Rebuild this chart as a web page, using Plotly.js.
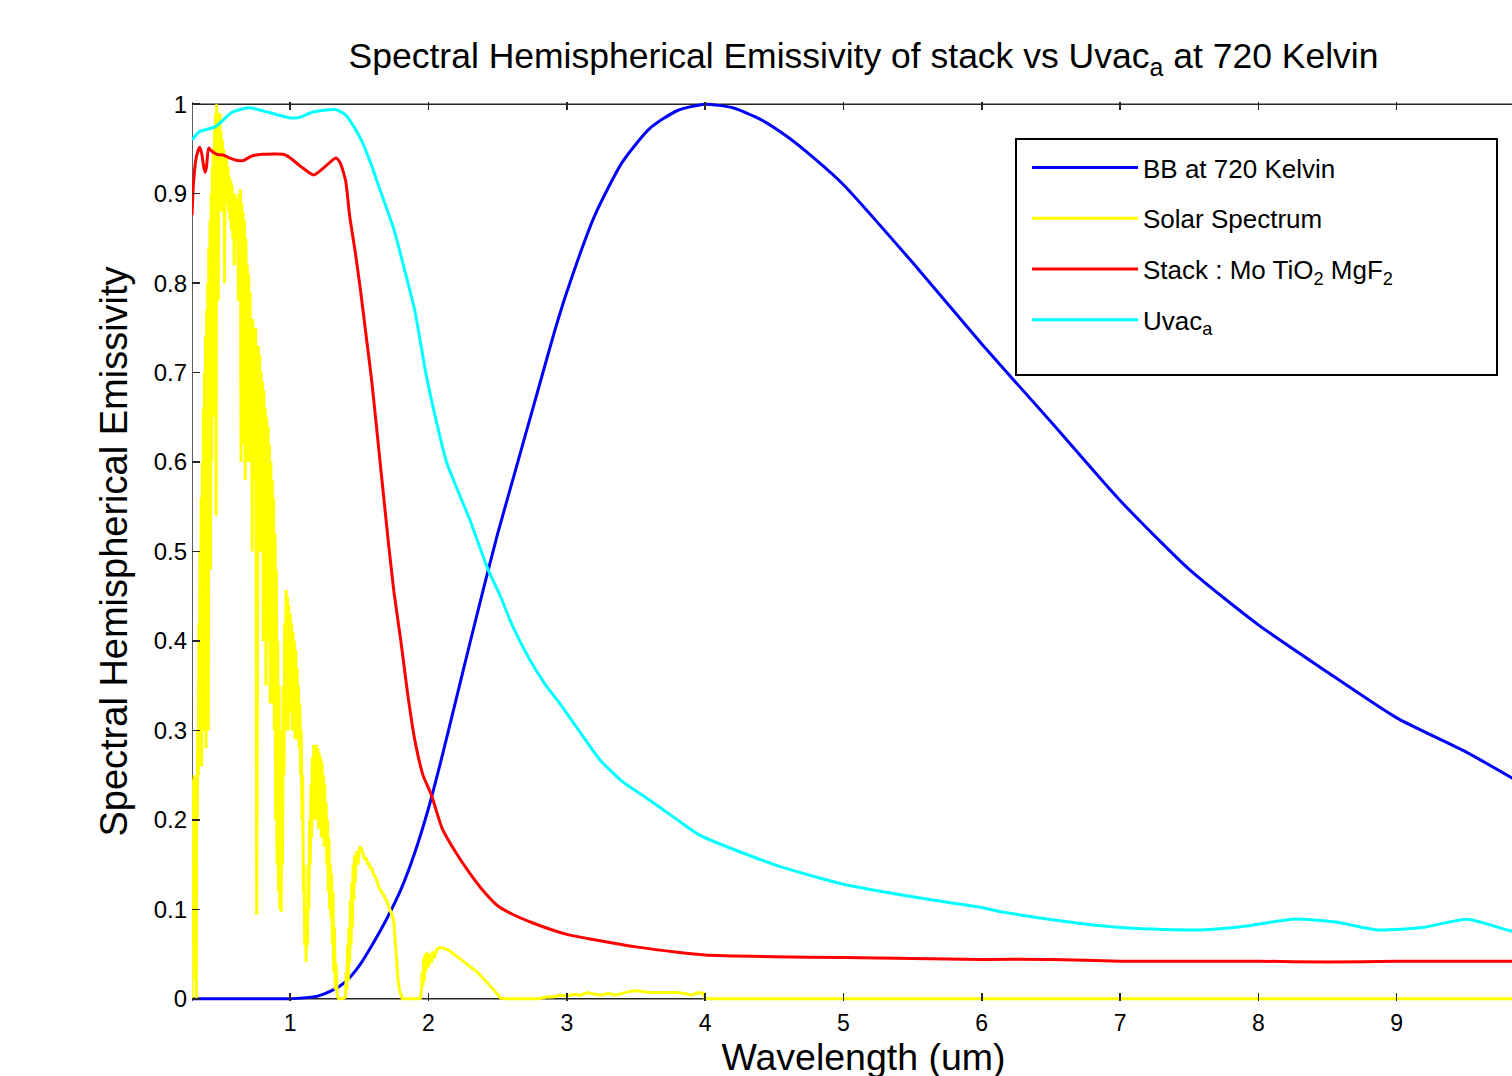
<!DOCTYPE html>
<html>
<head>
<meta charset="utf-8">
<script src="https://cdn.plot.ly/plotly-3.0.1.min.js"></script>
<style>
  html, body { margin: 0; padding: 0; overflow: hidden; background: #fff; }
  #chart { width: 1560px; height: 1100px; }
</style>
</head>
<body>
<div id="chart"></div>
<script>
// ---- Data ----
const seriesNames = ["BB at 720 Kelvin", "Solar Spectrum", "Stack : Mo TiO<sub>2</sub> MgF<sub>2</sub>", "Uvac<sub>a</sub>"];

const bbX = [0.29,0.5,0.8,1.0,1.1,1.2,1.3,1.4,1.5,1.6,1.7,1.8,1.9,2.0,2.1,2.2,2.3,2.4,2.5,2.6,2.7,2.8,2.9,3.0,3.2,3.4,3.6,3.8,4.0,4.2,4.4,4.6,4.8,5.0,5.5,6.0,6.5,7.0,7.5,8.0,8.5,9.0,9.5,10.0];
const bbY = [0,0,0,0,0.001,0.003,0.009,0.019,0.037,0.062,0.09,0.122,0.163,0.213,0.272,0.335,0.398,0.46,0.52,0.575,0.63,0.685,0.74,0.79,0.875,0.935,0.973,0.993,1.0,0.996,0.983,0.963,0.938,0.91,0.823,0.732,0.645,0.557,0.48,0.418,0.365,0.314,0.276,0.232];

const solarX = [0.290,0.292,0.294,0.296,0.298,0.300,0.303,0.306,0.309,0.312,0.315,0.318,0.321,0.324,0.328,0.332,0.336,0.340,0.344,0.348,0.352,0.356,0.360,0.364,0.368,0.372,0.376,0.380,0.384,0.388,0.392,0.396,0.400,0.404,0.408,0.412,0.416,0.420,0.424,0.428,0.432,0.436,0.440,0.444,0.448,0.452,0.456,0.460,0.464,0.468,0.472,0.476,0.480,0.484,0.488,0.492,0.496,0.500,0.505,0.510,0.515,0.520,0.525,0.530,0.535,0.540,0.545,0.550,0.555,0.560,0.565,0.570,0.575,0.580,0.585,0.590,0.595,0.600,0.605,0.610,0.615,0.620,0.625,0.630,0.635,0.640,0.645,0.650,0.655,0.660,0.665,0.670,0.675,0.680,0.685,0.690,0.695,0.700,0.705,0.710,0.715,0.720,0.725,0.730,0.735,0.740,0.745,0.750,0.755,0.758,0.762,0.766,0.770,0.775,0.780,0.785,0.790,0.795,0.800,0.805,0.810,0.815,0.820,0.825,0.830,0.835,0.840,0.845,0.850,0.855,0.860,0.865,0.870,0.875,0.880,0.885,0.890,0.895,0.900,0.905,0.910,0.915,0.920,0.925,0.930,0.935,0.940,0.945,0.950,0.955,0.960,0.965,0.970,0.975,0.980,0.985,0.990,0.995,1.000,1.005,1.010,1.015,1.020,1.025,1.030,1.035,1.040,1.045,1.050,1.055,1.060,1.065,1.070,1.075,1.080,1.085,1.090,1.095,1.100,1.105,1.110,1.115,1.120,1.125,1.130,1.135,1.140,1.145,1.150,1.155,1.160,1.165,1.170,1.175,1.180,1.185,1.190,1.195,1.200,1.205,1.210,1.215,1.220,1.225,1.230,1.235,1.240,1.245,1.250,1.255,1.260,1.265,1.270,1.275,1.280,1.285,1.290,1.295,1.300,1.305,1.310,1.315,1.320,1.325,1.330,1.340,1.350,1.380,1.400,1.405,1.410,1.415,1.420,1.425,1.430,1.435,1.440,1.445,1.450,1.455,1.460,1.465,1.470,1.480,1.490,1.500,1.510,1.520,1.530,1.540,1.550,1.560,1.570,1.580,1.590,1.600,1.620,1.640,1.660,1.680,1.700,1.720,1.740,1.750,1.760,1.770,1.780,1.790,1.800,1.810,1.940,1.950,1.955,1.960,1.965,1.970,1.975,1.980,1.990,2.000,2.010,2.020,2.030,2.040,2.060,2.080,2.100,2.150,2.200,2.250,2.300,2.350,2.400,2.450,2.500,2.520,2.550,2.800,2.850,2.900,2.950,3.000,3.050,3.100,3.150,3.200,3.250,3.300,3.350,3.400,3.450,3.500,3.600,3.700,3.800,3.850,3.900,3.950,3.990,4.000,10.000];
const solarY = [0.000,0.110,0.020,0.200,0.060,0.245,0.150,0.250,0.100,0.245,0.020,0.240,0.000,0.250,0.200,0.300,0.250,0.420,0.260,0.500,0.300,0.560,0.260,0.600,0.350,0.660,0.300,0.700,0.400,0.740,0.280,0.770,0.450,0.800,0.300,0.840,0.500,0.870,0.480,0.900,0.600,0.930,0.700,0.950,0.650,0.970,0.750,0.990,0.540,1.000,0.880,0.990,0.780,0.960,0.900,0.990,0.880,0.970,0.920,0.960,0.880,0.950,0.800,0.940,0.900,0.940,0.890,0.930,0.880,0.920,0.870,0.915,0.860,0.910,0.850,0.900,0.820,0.900,0.860,0.895,0.850,0.890,0.780,0.900,0.820,0.905,0.600,0.890,0.700,0.880,0.620,0.870,0.580,0.850,0.700,0.820,0.600,0.810,0.650,0.790,0.600,0.760,0.500,0.760,0.580,0.750,0.620,0.750,0.300,0.094,0.300,0.700,0.730,0.600,0.720,0.500,0.700,0.600,0.690,0.400,0.680,0.550,0.660,0.350,0.650,0.480,0.640,0.400,0.620,0.330,0.600,0.450,0.580,0.330,0.560,0.300,0.520,0.200,0.480,0.150,0.400,0.120,0.350,0.100,0.300,0.097,0.280,0.150,0.350,0.250,0.420,0.300,0.457,0.350,0.450,0.300,0.440,0.320,0.430,0.350,0.420,0.300,0.410,0.330,0.400,0.290,0.390,0.300,0.370,0.290,0.350,0.280,0.330,0.250,0.300,0.200,0.250,0.120,0.150,0.060,0.100,0.041,0.090,0.060,0.150,0.100,0.200,0.150,0.240,0.180,0.270,0.200,0.284,0.220,0.280,0.200,0.284,0.230,0.280,0.190,0.275,0.220,0.270,0.180,0.265,0.210,0.250,0.170,0.240,0.180,0.220,0.150,0.200,0.120,0.180,0.100,0.150,0.090,0.140,0.060,0.120,0.030,0.080,0.010,0.040,0.005,0.000,0.000,0.002,0.030,0.010,0.060,0.020,0.080,0.040,0.110,0.060,0.130,0.080,0.150,0.110,0.160,0.130,0.165,0.150,0.168,0.170,0.165,0.160,0.155,0.158,0.150,0.152,0.145,0.147,0.140,0.135,0.125,0.120,0.115,0.108,0.100,0.092,0.085,0.060,0.040,0.020,0.010,0.004,0.000,0.000,0.010,0.030,0.015,0.045,0.020,0.050,0.030,0.052,0.035,0.050,0.040,0.053,0.045,0.055,0.057,0.057,0.054,0.048,0.042,0.036,0.030,0.022,0.014,0.005,0.001,0.000,0.000,0.002,0.002,0.004,0.003,0.005,0.004,0.007,0.005,0.004,0.006,0.004,0.006,0.008,0.009,0.007,0.007,0.007,0.006,0.004,0.007,0.006,0.000,0.000];

const stackX = [0.29,0.30,0.32,0.345,0.36,0.375,0.385,0.395,0.41,0.43,0.47,0.52,0.56,0.62,0.66,0.72,0.8,0.95,1.0,1.08,1.17,1.25,1.33,1.36,1.40,1.43,1.47,1.51,1.55,1.59,1.63,1.67,1.71,1.75,1.80,1.85,1.90,1.96,2.02,2.1,2.2,2.3,2.4,2.5,2.6,2.75,3.0,3.2,3.5,3.8,4.0,4.5,5.0,5.5,6.0,6.5,7.0,7.5,8.0,8.5,9.0,9.5,10.0];
const stackY = [0.876,0.91,0.94,0.952,0.945,0.93,0.924,0.93,0.951,0.948,0.944,0.943,0.94,0.937,0.937,0.942,0.944,0.944,0.94,0.93,0.921,0.93,0.94,0.935,0.915,0.875,0.835,0.79,0.74,0.69,0.63,0.57,0.51,0.455,0.40,0.34,0.29,0.25,0.228,0.19,0.163,0.14,0.12,0.104,0.095,0.085,0.072,0.066,0.058,0.052,0.049,0.047,0.046,0.045,0.044,0.044,0.042,0.042,0.042,0.041,0.042,0.042,0.042];

const uvacX = [0.29,0.34,0.46,0.58,0.70,0.84,0.99,1.06,1.16,1.33,1.40,1.46,1.52,1.58,1.65,1.75,1.84,1.90,1.98,2.05,2.13,2.22,2.30,2.43,2.52,2.59,2.66,2.74,2.85,2.95,3.1,3.24,3.4,3.6,3.8,3.96,4.5,5.0,5.5,6.0,6.13,6.62,7.05,7.58,7.9,8.25,8.55,8.86,9.2,9.51,9.82,10.0];
const uvacY = [0.96,0.969,0.975,0.991,0.996,0.991,0.985,0.985,0.991,0.994,0.988,0.975,0.958,0.935,0.904,0.86,0.807,0.77,0.70,0.65,0.60,0.565,0.535,0.48,0.45,0.423,0.40,0.377,0.35,0.33,0.297,0.267,0.243,0.222,0.20,0.183,0.15,0.128,0.114,0.102,0.0975,0.086,0.079,0.077,0.081,0.089,0.086,0.077,0.080,0.089,0.076,0.072];

const xTickVals = [1,2,3,4,5,6,7,8,9];
const yTickVals = [0,0.1,0.2,0.3,0.4,0.5,0.6,0.7,0.8,0.9,1];
const yTickText = ["0","0.1","0.2","0.3","0.4","0.5","0.6","0.7","0.8","0.9","1"];

// ---- Figure ----
const FONT = "Liberation Sans, Arial, sans-serif";
const colors = ["#0000ff", "#ffff00", "#ff0000", "#00ffff"];
const shapes = ["spline", "linear", "spline", "spline"];
const xs = [bbX, solarX, stackX, uvacX];
const ys = [bbY, solarY, stackY, uvacY];

const traces = seriesNames.map((name, i) => ({
  type: "scatter", mode: "lines", name: name, legendgroup: "g" + i,
  x: xs[i], y: ys[i],
  line: { color: colors[i], width: 3, shape: shapes[i], smoothing: 0.6 }
}));

const frameColor = "#262626";
const legX0 = 1016, legX1 = 1497, legY0 = 139, legY1 = 375;
const layout = {
  width: 1560, height: 1100,
  margin: { l: 192, r: 25, t: 102, b: 99 },
  paper_bgcolor: "#fff", plot_bgcolor: "#fff",
  showlegend: true,
  title: {
    text: "Spectral Hemispherical Emissivity of stack vs Uvac<sub>a</sub> at 720 Kelvin",
    font: { family: FONT, size: 35.5, color: "#000" },
    x: 0.5, xref: "paper", xanchor: "center",
    y: 1 - 56 / 1100, yref: "container", yanchor: "middle"
  },
  xaxis: {
    range: [0.29, 10], tickvals: xTickVals, ticktext: xTickVals.map(String),
    ticks: "inside", ticklen: 8, tickwidth: 1.5, tickcolor: frameColor,
    mirror: "ticks", showline: false, showgrid: false, zeroline: false,
    tickfont: { family: FONT, size: 23, color: "#000" },
    ticklabelstandoff: 6,
    title: { text: "Wavelength (um)", font: { family: FONT, size: 37.5, color: "#000" }, standoff: 8 }
  },
  yaxis: {
    range: [-0.0025, 1.0025], tickvals: yTickVals, ticktext: yTickText,
    ticks: "inside", ticklen: 8, tickwidth: 1.5, tickcolor: frameColor,
    mirror: false, showline: false, showgrid: false, zeroline: false,
    tickfont: { family: FONT, size: 24, color: "#000" },
    ticklabelstandoff: 4,
    title: { text: "Spectral Hemispherical Emissivity", font: { family: FONT, size: 38, color: "#000" }, standoff: 14 }
  },
  legend: {
    x: (1027 - 192) / 1343, y: (1001 - 144) / 899, xanchor: "left", yanchor: "top",
    bgcolor: "rgba(0,0,0,0)", borderwidth: 0,
    font: { family: FONT, size: 26, color: "#000" },
    itemwidth: 106, tracegroupgap: 14
  },
  shapes: [
    { type: "line", xref: "paper", yref: "y", x0: 0, x1: 1, y0: 0, y1: 0, line: { color: frameColor, width: 1.5 }, layer: "below" },
    { type: "line", xref: "paper", yref: "y", x0: 0, x1: 1, y0: 1, y1: 1, line: { color: frameColor, width: 1.5 }, layer: "below" },
    { type: "line", xref: "x", yref: "paper", x0: 0.29, x1: 0.29, y0: 0, y1: 1, line: { color: frameColor, width: 1.5 }, layer: "below" },
    { type: "rect", xref: "paper", yref: "paper",
      x0: (legX0 - 192) / 1343, x1: (legX1 - 192) / 1343, y0: (1001 - legY1) / 899, y1: (1001 - legY0) / 899,
      line: { color: "#000", width: 2 }, fillcolor: "#fff", layer: "above" }
  ]
};

Plotly.newPlot("chart", traces, layout, { displayModeBar: false, staticPlot: true });
</script>
</body>
</html>
